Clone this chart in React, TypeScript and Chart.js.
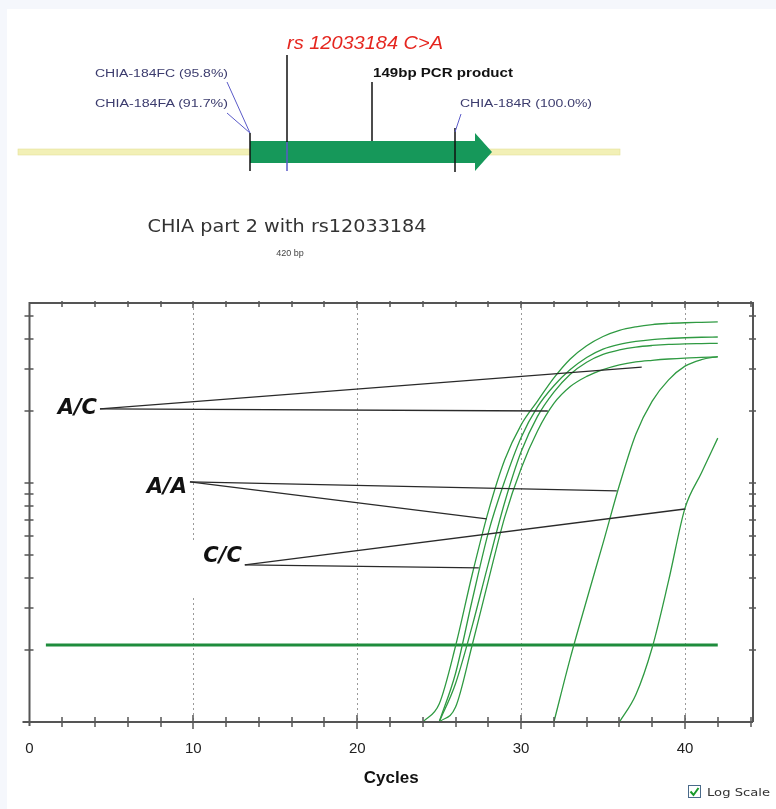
import React, { useEffect, useRef } from 'react';
import { Chart, registerables } from 'chart.js';
Chart.register(...registerables);

// ---- axis ranges / ticks ----
const X_MIN = 0;
const X_MAX = 44.15;
const Y_MIN = 1;
const Y_MAX = 56.6;
const X_LABEL_TICKS = [0, 10, 20, 30, 40];
const X_MINOR_TICKS = [2, 4, 6, 8, 12, 14, 16, 18, 22, 24, 26, 28, 32, 34, 36, 38, 42, 44];
const X_GRID = [10, 20, 30, 40];
const Y_TICKS = [2, 3, 4, 5, 6, 7, 8, 9, 10, 20, 30, 40, 50];

// ---- amplification curves (fluorescence per cycle, log scale) ----
const CURVE_A_START = 24;
const CURVE_A = [1.0, 1.19, 2.08, 4.1, 7.6, 12.5, 17.5, 22, 27.5, 33, 37.5, 41, 43.5, 45, 46, 46.5, 46.8, 47, 47.2];
const CURVE_B_START = 25;
const CURVE_B = [1.0, 1.6, 3.2, 6.2, 10.2, 15.5, 20.8, 25.5, 29.8, 33.5, 36.3, 38, 39.1, 39.8, 40.2, 40.5, 40.7, 40.8];
const CURVE_C_START = 25;
const CURVE_C = [1.0, 1.45, 2.5, 4.6, 8.3, 13.5, 19, 24, 28.5, 32, 34.5, 36, 37, 37.6, 38, 38.2, 38.3, 38.4];
const CURVE_D_START = 25;
const CURVE_D = [1.0, 1.155, 2.08, 3.9, 7.2, 11.5, 16.5, 21.5, 25.3, 27.9, 29.8, 31.2, 32.1, 32.6, 33, 33.3, 33.5, 33.7];
const CURVE_E_START = 32;
const CURVE_E = [1.0, 1.85, 3.24, 5.6, 9.8, 16, 22, 27, 30.8, 32.8, 33.8];
const CURVE_F_START = 36;
const CURVE_F = [1.0, 1.3, 2.05, 3.9, 7.85, 11, 15.4];

// ---- threshold ----
const THRESHOLD = 2.1;
const THRESHOLD_FROM = 1;
const THRESHOLD_TO = 42;

// ---- genotype call annotations ----
const CALL_LABELS = ['A/C', 'A/A', 'C/C'];
const CALL_ORIGIN_X = [4.3, 9.79, 13.14];
const CALL_ORIGIN_Y = [20.4, 10.1, 4.54];
const CALL_T1_X = [37.36, 35.84, 39.99];
const CALL_T1_Y = [30.5, 9.26, 7.78];
const CALL_T2_X = [31.63, 27.9, 27.42];
const CALL_T2_Y = [20.0, 7.07, 4.41];

const CURVE_COLOR = '#2f9a42';
const FONT = '"Liberation Sans", Arial, sans-serif';

const curve = (start: number, vals: number[]) => vals.map((v, i) => ({ x: start + i, y: v }));

const decor = {
  id: 'decor',
  beforeDatasetsDraw(chart: any) {
    const { ctx, chartArea: a, scales } = chart;
    const x = scales.x, y = scales.y;
    ctx.save();
    ctx.strokeStyle = '#9a9a9a';
    ctx.lineWidth = 1;
    ctx.setLineDash([2, 3]);
    X_GRID.forEach((g) => {
      const px = Math.round(x.getPixelForValue(g)) + 0.5;
      ctx.beginPath();
      ctx.moveTo(px, a.top);
      ctx.lineTo(px, a.bottom);
      ctx.stroke();
    });
    ctx.setLineDash([]);
    ctx.fillStyle = '#ffffff';
    CALL_ORIGIN_X.forEach((ox, i) => {
      const px = x.getPixelForValue(ox);
      const py = y.getPixelForValue(CALL_ORIGIN_Y[i]);
      ctx.fillRect(px - 55, py - 22, 54, 54);
    });
    ctx.restore();
  },
  afterDatasetsDraw(chart: any) {
    const { ctx, chartArea: a, scales } = chart;
    const x = scales.x, y = scales.y;
    ctx.save();
    ctx.strokeStyle = '#555555';
    ctx.lineWidth = 2;
    ctx.beginPath();
    ctx.moveTo(a.left - 7, a.bottom);
    ctx.lineTo(a.right, a.bottom);
    ctx.moveTo(a.left, a.bottom + 4);
    ctx.lineTo(a.left, a.top);
    ctx.lineTo(a.right, a.top);
    ctx.lineTo(a.right, a.bottom);
    ctx.stroke();
    ctx.lineWidth = 1.5;
    ctx.beginPath();
    Y_TICKS.forEach((t) => {
      const py = Math.round(y.getPixelForValue(t));
      ctx.moveTo(a.left - 5, py);
      ctx.lineTo(a.left + 4, py);
      ctx.moveTo(a.right - 4, py);
      ctx.lineTo(a.right + 3, py);
    });
    X_MINOR_TICKS.forEach((t) => {
      const px = Math.round(x.getPixelForValue(t));
      ctx.moveTo(px, a.bottom - 5);
      ctx.lineTo(px, a.bottom + 5);
      ctx.moveTo(px, a.top - 2);
      ctx.lineTo(px, a.top + 4);
    });
    X_GRID.forEach((t) => {
      const px = Math.round(x.getPixelForValue(t));
      ctx.moveTo(px, a.bottom - 7);
      ctx.lineTo(px, a.bottom + 7);
      ctx.moveTo(px, a.top - 2);
      ctx.lineTo(px, a.top + 5);
    });
    ctx.stroke();
    ctx.fillStyle = '#111111';
    ctx.font = 'italic bold 21px "DejaVu Sans", sans-serif';
    ctx.textAlign = 'right';
    ctx.textBaseline = 'middle';
    const dy = [0, 6, -8];
    CALL_LABELS.forEach((lab, i) => {
      const px = x.getPixelForValue(CALL_ORIGIN_X[i]);
      const py = y.getPixelForValue(CALL_ORIGIN_Y[i]);
      ctx.fillText(lab, px - 3, py + dy[i]);
    });
    ctx.restore();
  },
};

function PcrChart() {
  const ref = useRef<HTMLCanvasElement>(null);
  useEffect(() => {
    if (!ref.current) return;
    const annot: any[] = [];
    CALL_LABELS.forEach((lab, i) => {
      annot.push({
        label: lab + ' 1',
        data: [
          { x: CALL_ORIGIN_X[i], y: CALL_ORIGIN_Y[i] },
          { x: CALL_T1_X[i], y: CALL_T1_Y[i] },
        ],
        borderColor: '#2a2a2a',
        borderWidth: 1.3,
        pointRadius: 0,
      });
      annot.push({
        label: lab + ' 2',
        data: [
          { x: CALL_ORIGIN_X[i], y: CALL_ORIGIN_Y[i] },
          { x: CALL_T2_X[i], y: CALL_T2_Y[i] },
        ],
        borderColor: '#2a2a2a',
        borderWidth: 1.3,
        pointRadius: 0,
      });
    });
    const curveDs = (label: string, start: number, vals: number[]) => ({
      label,
      data: curve(start, vals),
      borderColor: CURVE_COLOR,
      borderWidth: 1.3,
      pointRadius: 0,
      cubicInterpolationMode: 'monotone',
    });
    const chart = new Chart(ref.current, {
      type: 'line',
      data: {
        datasets: [
          ...annot,
          curveDs('A', CURVE_A_START, CURVE_A),
          curveDs('B', CURVE_B_START, CURVE_B),
          curveDs('C', CURVE_C_START, CURVE_C),
          curveDs('D', CURVE_D_START, CURVE_D),
          curveDs('E', CURVE_E_START, CURVE_E),
          curveDs('F', CURVE_F_START, CURVE_F),
          {
            label: 'Threshold',
            data: [
              { x: THRESHOLD_FROM, y: THRESHOLD },
              { x: THRESHOLD_TO, y: THRESHOLD },
            ],
            borderColor: '#1e8c3c',
            borderWidth: 3,
            pointRadius: 0,
          },
        ] as any,
      },
      options: {
        animation: false,
        responsive: false,
        events: [],
        layout: { padding: { top: 303, left: 29.5, right: 23, bottom: 0 } },
        plugins: { legend: { display: false }, tooltip: { enabled: false } },
        scales: {
          x: {
            type: 'linear',
            min: X_MIN,
            max: X_MAX,
            grid: { display: false },
            border: { display: false },
            afterBuildTicks: (s: any) => {
              s.ticks = X_LABEL_TICKS.map((v) => ({ value: v }));
            },
            afterFit: (s: any) => {
              s.height = 87;
            },
            ticks: {
              font: { family: FONT, size: 15 },
              color: '#222222',
              padding: 10,
              maxRotation: 0,
              autoSkip: false,
            },
            title: {
              display: true,
              text: 'Cycles',
              font: { family: FONT, size: 17, weight: 'bold' },
              color: '#111111',
              padding: { top: 0, bottom: 20 },
            },
          },
          y: {
            type: 'logarithmic',
            min: Y_MIN,
            max: Y_MAX,
            display: false,
          },
        },
      } as any,
      plugins: [decor],
    });
    return () => chart.destroy();
  }, []);
  return (
    <canvas
      ref={ref}
      width={776}
      height={809}
      style={{ position: 'absolute', left: 0, top: 0, width: 776, height: 809 }}
    />
  );
}

function Diagram() {
  const blue = '#5a5ac8';
  const lab = '#3c3c6e';
  return (
    <svg
      width={776}
      height={809}
      style={{ position: 'absolute', left: 0, top: 0, pointerEvents: 'none' }}
    >
      <rect x={18} y={149} width={602} height={6} fill="#f2f0b6" stroke="#e4e09c" strokeWidth={0.6} />
      <polygon points="250,141 475,141 475,133 492,152 475,171 475,163 250,163" fill="#16985a" />
      <line x1={250} y1={133} x2={250} y2={171} stroke="#111" strokeWidth={1.5} />
      <line x1={287} y1={55} x2={287} y2={142} stroke="#111" strokeWidth={1.5} />
      <line x1={287} y1={142} x2={287} y2={171} stroke={blue} strokeWidth={1.5} />
      <line x1={372} y1={82} x2={372} y2={141} stroke="#111" strokeWidth={1.5} />
      <line x1={455} y1={128} x2={455} y2={172} stroke="#111" strokeWidth={1.5} />
      <line x1={227} y1={82} x2={250} y2={133} stroke={blue} strokeWidth={1} />
      <line x1={227} y1={113} x2={250} y2={133} stroke={blue} strokeWidth={1} />
      <line x1={461} y1={114} x2={455} y2={132} stroke={blue} strokeWidth={1} />
      <text x={287} y={49} fill="#e5261f" fontStyle="italic" fontSize={19} fontFamily={FONT} textLength={156} lengthAdjust="spacingAndGlyphs">rs 12033184 C&gt;A</text>
      <text x={373} y={77} fill="#111" fontWeight="bold" fontSize={12} fontFamily={FONT} textLength={140} lengthAdjust="spacingAndGlyphs">149bp PCR product</text>
      <text x={95} y={77} fill={lab} fontSize={10} fontFamily={FONT} textLength={133} lengthAdjust="spacingAndGlyphs">CHIA-184FC (95.8%)</text>
      <text x={95} y={107} fill={lab} fontSize={10} fontFamily={FONT} textLength={133} lengthAdjust="spacingAndGlyphs">CHIA-184FA (91.7%)</text>
      <text x={460} y={107} fill={lab} fontSize={10} fontFamily={FONT} textLength={132} lengthAdjust="spacingAndGlyphs">CHIA-184R (100.0%)</text>
      <text x={287} y={232} fill="#333" fontSize={17} fontFamily='"DejaVu Sans", sans-serif' textAnchor="middle" textLength={279} lengthAdjust="spacingAndGlyphs">CHIA part 2 with rs12033184</text>
      <text x={290} y={256} fill="#444" fontSize={9} fontFamily={FONT} textAnchor="middle">420 bp</text>
      <rect x={688.5} y={785.5} width={12} height={12} fill="#fff" stroke="#4a6a8a" strokeWidth={1} />
      <polyline points="690.5,791.5 693.5,795 698.5,788" fill="none" stroke="#1a9a2a" strokeWidth={2} />
      <text x={707} y={796} fill="#333" fontSize={11} fontFamily='"DejaVu Sans", sans-serif' textLength={63} lengthAdjust="spacingAndGlyphs">Log Scale</text>
    </svg>
  );
}

export default function App() {
  return (
    <div
      style={{
        position: 'absolute',
        left: 0,
        top: 0,
        width: 776,
        height: 809,
        background: '#f5f7fc',
        overflow: 'hidden',
      }}
    >
      <div style={{ position: 'absolute', left: 7, top: 9, right: 0, bottom: 0, background: '#ffffff' }} />
      <PcrChart />
      <Diagram />
    </div>
  );
}
